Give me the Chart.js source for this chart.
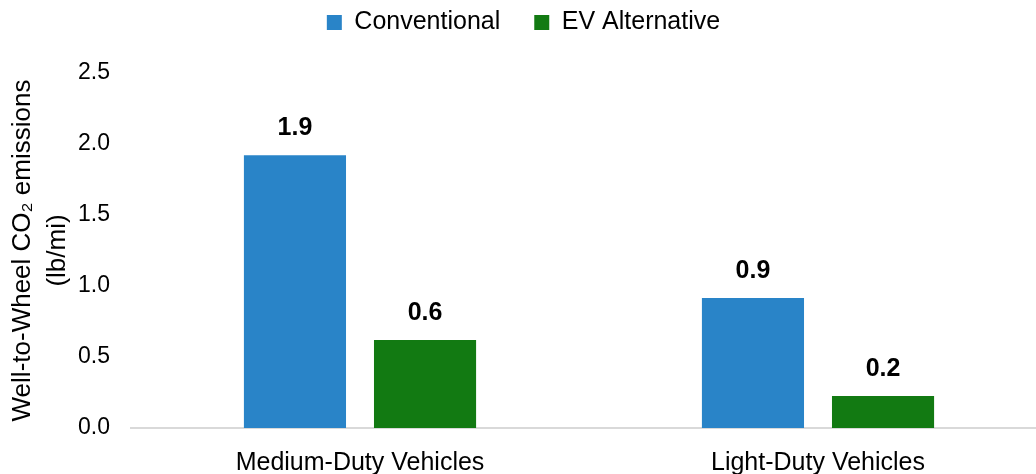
<!DOCTYPE html>
<html>
<head>
<meta charset="utf-8">
<script src="https://cdn.jsdelivr.net/npm/chart.js@4.4.1/dist/chart.umd.min.js"></script>
<style>
  html, body { margin: 0; padding: 0; background: #fff; overflow: hidden; }
  #wrap { width: 1036px; height: 474px; overflow: hidden; }
</style>
</head>
<body>
<div id="wrap"><canvas id="c" width="1047" height="474"></canvas></div>
<script>
const categories = ['Medium-Duty Vehicles', 'Light-Duty Vehicles'];
const conventional = [1.92, 0.915];
const evAlternative = [0.62, 0.225];
const seriesNames = ['Conventional', 'EV Alternative'];
const yTicks = [0, 0.5, 1.0, 1.5, 2.0, 2.5];

const FONT = "'Liberation Sans', Arial, sans-serif";
const PLOT_TOP = 73;
const PAD_TOP = -24;

// Bold value labels above each bar
const valueLabels = {
  id: 'valueLabels',
  afterDatasetsDraw(chart) {
    const ctx = chart.ctx;
    ctx.save();
    ctx.font = "bold 25px " + FONT;
    ctx.fillStyle = '#000';
    ctx.textAlign = 'center';
    ctx.textBaseline = 'alphabetic';
    chart.data.datasets.forEach((ds, i) => {
      chart.getDatasetMeta(i).data.forEach((bar, j) => {
        ctx.fillText(ds.data[j].toFixed(1), bar.x, bar.y - 20);
      });
    });
    ctx.restore();
  }
};

// Keeps the legend band a fixed height so the plot starts below it
const legendBand = {
  id: 'legendBand',
  beforeLayout(chart) {
    const lg = chart.legend;
    if (lg && !lg._bandFixed) {
      const fit = lg.fit;
      lg.fit = function () { fit.call(this); this.height = PLOT_TOP - PAD_TOP; };
      lg._bandFixed = true;
    }
  }
};

new Chart(document.getElementById('c'), {
  type: 'bar',
  data: {
    labels: categories,
    datasets: [
      { label: seriesNames[0], data: conventional, backgroundColor: '#2984C8',
        categoryPercentage: 0.568, barPercentage: 0.785 },
      { label: seriesNames[1], data: evAlternative, backgroundColor: '#127A12',
        categoryPercentage: 0.568, barPercentage: 0.785 }
    ]
  },
  options: {
    responsive: false,
    animation: false,
    layout: { padding: { top: PAD_TOP, right: 0, left: 0, bottom: 0 } },
    plugins: {
      legend: {
        position: 'top',
        labels: {
          boxWidth: 15, boxHeight: 15, padding: 34,
          color: '#000',
          font: { family: FONT, size: 25 }
        }
      },
      tooltip: { enabled: false }
    },
    scales: {
      x: {
        afterFit(axis) { axis.height = 46; },
        grid: { display: false, drawTicks: false },
        border: { display: true, color: '#D9D9D9', width: 2 },
        ticks: { color: '#000', font: { family: FONT, size: 25 }, padding: 20 }
      },
      y: {
        min: 0, max: 2.5,
        afterBuildTicks(axis) { axis.ticks = yTicks.map(v => ({ value: v })); },
        afterFit(axis) { axis.width = 131; },
        grid: { display: false, drawTicks: false },
        border: { display: false },
        ticks: {
          color: '#000', padding: 21,
          font: { family: FONT, size: 23 },
          callback: v => Number(v).toFixed(1)
        },
        title: {
          display: true,
          text: ['Well-to-Wheel CO₂ emissions', '(lb/mi)'],
          color: '#000',
          font: { family: FONT, size: 26, lineHeight: 1.32 },
          padding: { top: 6, bottom: 0 }
        }
      }
    }
  },
  plugins: [valueLabels, legendBand]
});
</script>
</body>
</html>
